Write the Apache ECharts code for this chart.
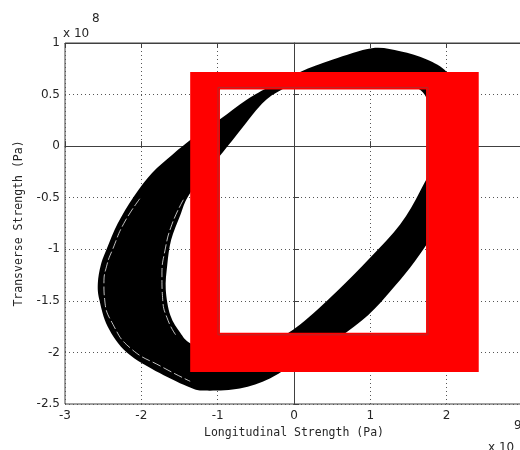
<!DOCTYPE html>
<html>
<head>
<meta charset="utf-8">
<script src="https://cdn.jsdelivr.net/npm/echarts@6/dist/echarts.min.js"></script>
<style>
  html, body { margin: 0; padding: 0; background: #fff; }
  #chart { width: 520px; height: 450px; }
</style>
</head>
<body>
<div id="chart"></div>
<script>
// x in units of 1e9 Pa, y in units of 1e8 Pa
const xMin = -3, xMax = 3, xStep = 1
const yMin = -2.5, yMax = 1, yStep = 0.5

// outer envelope of the black orbit band (clockwise, from the top)
const outerX = [1.02, 1.39, 1.74, 2.00, 2.17, 2.25, 2.24, 2.15, 1.98, 1.76, 1.52, 1.26, 0.97, 0.58, 0.13, -0.31,
  -0.71, -1.17, -1.36, -1.76, -2.19, -2.44, -2.55, -2.57, -2.53, -2.45, -2.31, -2.10, -1.86, -1.59, -1.30, -0.97,
  -0.62, -0.31, 0.08, 0.51]
const outerY = [0.95, 0.92, 0.84, 0.72, 0.50, 0.20, -0.04, -0.38, -0.67, -0.93, -1.18, -1.41, -1.64, -1.86, -2.05, -2.25,
  -2.35, -2.37, -2.34, -2.20, -2.00, -1.75, -1.49, -1.33, -1.15, -0.99, -0.75, -0.49, -0.26, -0.08, 0.09, 0.26,
  0.45, 0.58, 0.72, 0.84]

// inner hole of the band (clockwise, from the top)
const innerX = [0.08, 0.73, 1.39, 1.69, 1.81, 1.83, 1.65, 1.39, 1.00, 0.56, 0.08, -0.25, -0.64, -1.03, -1.36, -1.49,
  -1.62, -1.68, -1.66, -1.61, -1.49, -1.39, -1.17, -0.77, -0.42, -0.18]
const innerY = [0.60, 0.64, 0.60, 0.52, 0.25, -0.13, -0.44, -0.76, -1.08, -1.41, -1.73, -1.88, -1.98, -2.00, -1.91, -1.81,
  -1.64, -1.39, -1.15, -0.91, -0.67, -0.49, -0.28, 0.09, 0.41, 0.54]

// thin light gaps running inside the band on its left side
const streakOuterX = [-2.02, -2.23, -2.37, -2.45, -2.49, -2.48, -2.37, -2.14, -1.73, -1.36]
const streakOuterY = [-0.51, -0.75, -0.99, -1.15, -1.33, -1.49, -1.73, -1.96, -2.14, -2.28]
const streakInnerX = [-1.45, -1.60, -1.69, -1.73, -1.72, -1.65, -1.55]
const streakInnerY = [-0.52, -0.76, -1.01, -1.25, -1.49, -1.69, -1.83]

// red frame drawn over the plot: [x0, y0, x1, y1]
const frameOuter = [-1.36, 0.72, 2.42, -2.19]
const frameInner = [-0.97, 0.55, 1.73, -1.81]

const chart = echarts.init(document.getElementById('chart'))

// closed Catmull-Rom curve through the given pixel points
const smoothPath = pts => {
  const n = pts.length
  let d = `M${pts[0][0]},${pts[0][1]}`
  for (let i = 0; i < n; i++) {
    const p0 = pts[(i - 1 + n) % n], p1 = pts[i], p2 = pts[(i + 1) % n], p3 = pts[(i + 2) % n]
    const c1 = [p1[0] + (p2[0] - p0[0]) / 6, p1[1] + (p2[1] - p0[1]) / 6]
    const c2 = [p2[0] - (p3[0] - p1[0]) / 6, p2[1] - (p3[1] - p1[1]) / 6]
    d += `C${c1[0]},${c1[1]} ${c2[0]},${c2[1]} ${p2[0]},${p2[1]}`
  }
  return d + 'Z'
}

const ring = (api, ox, oy, ix, iy) => {
  const outer = ox.map((x, i) => api.coord([x, oy[i]]))
  const inner = ix.map((x, i) => api.coord([x, iy[i]])).reverse()
  return outer.concat([outer[0]], inner, [inner[0]])
}
const rectX = r => [r[0], r[2], r[2], r[0]]
const rectY = r => [r[1], r[1], r[3], r[3]]

const streak = (xs, ys) => ({
  type: 'line',
  z: 4,
  data: xs.map((x, i) => [x, ys[i]]),
  smooth: 0.5,
  symbol: 'none',
  lineStyle: {color: '#fff', width: 1, type: [9, 3], opacity: 0.75}
})

const tickStyle = {inside: true, length: 5, lineStyle: {color: '#404040'}}
const labelFont = {fontFamily: 'DejaVu Sans', fontSize: 12, color: '#262626'}
const nameFont = {fontFamily: 'DejaVu Sans Mono', fontSize: 11.5, color: '#262626'}
const gridDots = {show: true, lineStyle: {color: '#555', width: 1, type: [1, 3]}}

chart.setOption({
  animation: false,
  backgroundColor: '#fff',
  grid: {
    left: 65, top: 43, width: 458, height: 361, outerBoundsMode: 'none',
    show: true, borderColor: '#404040', borderWidth: 1
  },
  xAxis: [{
    type: 'value', min: xMin, max: xMax, interval: xStep, position: 'bottom',
    name: 'Longitudinal Strength (Pa)', nameLocation: 'middle', nameGap: 23, nameTextStyle: nameFont,
    axisLine: {show: true, lineStyle: {color: '#404040'}},
    axisTick: tickStyle,
    axisLabel: {margin: 6, ...labelFont},
    splitLine: gridDots
  }, {
    type: 'value', min: xMin, max: xMax, interval: xStep, position: 'top',
    axisLine: {show: true, lineStyle: {color: '#404040'}},
    axisTick: tickStyle, axisLabel: {show: false}, splitLine: {show: false}
  }],
  yAxis: [{
    type: 'value', min: yMin, max: yMax, interval: yStep,
    name: 'Transverse Strength (Pa)', nameLocation: 'middle', nameGap: 40, nameTextStyle: nameFont,
    axisLine: {show: true, lineStyle: {color: '#404040'}},
    axisTick: tickStyle,
    axisLabel: {margin: 5, ...labelFont},
    splitLine: gridDots
  }],
  series: [{
    type: 'custom',
    coordinateSystem: 'cartesian2d',
    clip: false,
    z: 3,
    data: [[0, 0]],
    renderItem: (params, api) => {
      const outer = outerX.map((x, i) => api.coord([x, outerY[i]]))
      const inner = innerX.map((x, i) => api.coord([x, innerY[i]])).reverse()
      return {
        type: 'path',
        shape: {pathData: smoothPath(outer) + smoothPath(inner)},
        style: {fill: '#000'}
      }
    }
  },
  streak(streakOuterX, streakOuterY),
  streak(streakInnerX, streakInnerY),
  {
    type: 'custom',
    coordinateSystem: 'cartesian2d',
    clip: false,
    z: 5,
    data: [[0, 0]],
    renderItem: (params, api) => {
      const a = api.coord([frameInner[0], frameInner[1]])
      const b = api.coord([frameInner[2], frameInner[3]])
      return {
        type: 'group',
        children: [{
          type: 'polygon',
          shape: {points: ring(api, rectX(frameOuter), rectY(frameOuter), rectX(frameInner), rectY(frameInner))},
          style: {fill: '#ff0000'}
        }, {
          type: 'rect',
          shape: {x: a[0] - 2, y: a[1] - 2, width: b[0] - a[0] + 4, height: b[1] - a[1] + 4},
          style: {fill: null, stroke: '#b02a2a', lineWidth: 1}
        }]
      }
    }
  }],
  graphic: [
    {type: 'text', left: 63, top: 28, style: {text: 'x 10', font: '12px "DejaVu Sans"', fill: '#262626'}},
    {type: 'text', left: 92, top: 13, style: {text: '8', font: '12px "DejaVu Sans"', fill: '#262626'}},
    {type: 'text', left: 488, top: 442, style: {text: 'x 10', font: '12px "DejaVu Sans"', fill: '#262626'}},
    {type: 'text', left: 514, top: 420, style: {text: '9', font: '12px "DejaVu Sans"', fill: '#262626'}}
  ]
})
</script>
</body>
</html>
